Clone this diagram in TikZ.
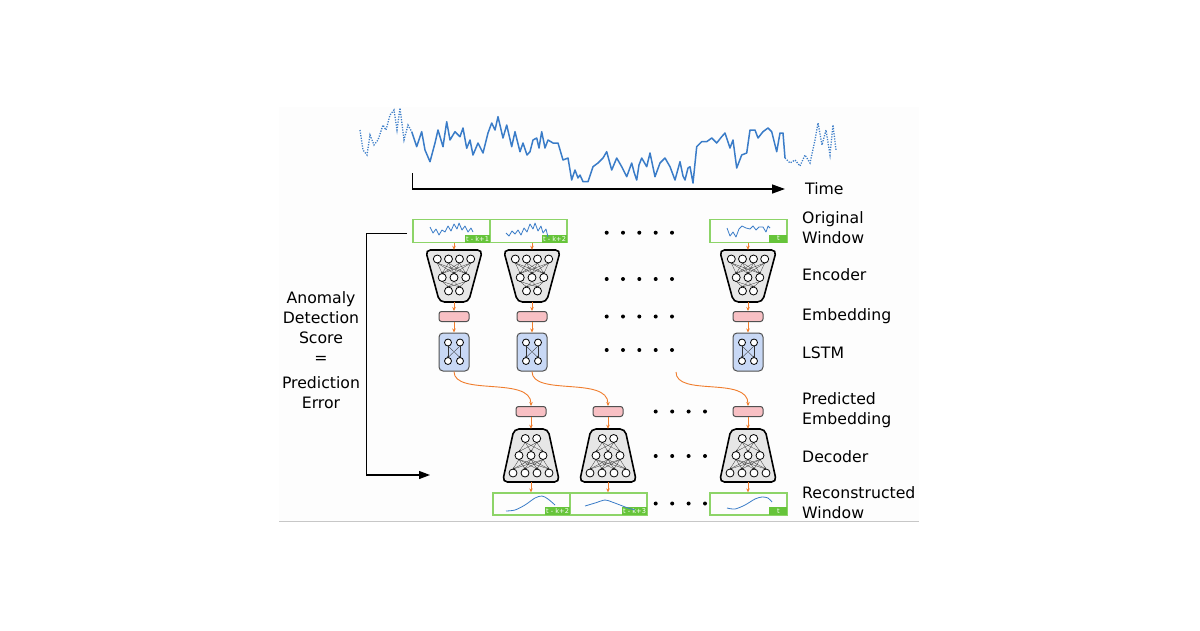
\documentclass[tikz,border=0pt]{standalone}
\usepackage{fontspec}
\setmainfont{DejaVu Sans}
\usetikzlibrary{arrows.meta,calc}
\definecolor{wgreen}{RGB}{141,212,104}
\definecolor{tgreen}{RGB}{102,196,58}
\definecolor{oline}{RGB}{240,125,45}
\definecolor{pinkc}{RGB}{248,192,196}
\definecolor{bluec}{RGB}{200,216,245}
\definecolor{encc}{RGB}{230,230,230}
\definecolor{wblue}{RGB}{58,124,200}
\definecolor{panelc}{RGB}{253,253,253}
\definecolor{edgec}{RGB}{80,80,80}

\newcommand\mkenc[3]{%
 \begin{scope}[shift={(#2,#3)}]
  \node[hidbox, minimum width=57, minimum height=52] (#1) at (0,0) {};
  \draw[netbody] (-28.5,-26) -- (28.5,-26) -- (14.5,26) -- (-14.5,26) -- cycle;
  \foreach \a in {-16.7,-5.5,5.5,16.7}{\foreach \b in {-11.8,0,11.8}{\draw[netline] (\a,-13) -- (\b,-2.5);}}
  \foreach \a in {-11.8,0,11.8}{\foreach \b in {-5.5,5.5}{\draw[netline] (\a,5.5) -- (\b,11);}}
  \foreach \a in {-16.7,-5.5,5.5,16.7}{\draw[neuron] (\a,-17) circle (4);}
  \foreach \a in {-11.8,0,11.8}{\draw[neuron] (\a,1.5) circle (4);}
  \foreach \a in {-5.5,5.5}{\draw[neuron] (\a,15) circle (4);}
 \end{scope}}

\newcommand\mkdec[3]{%
 \begin{scope}[shift={(#2,#3)}]
  \node[hidbox, minimum width=57, minimum height=53] (#1) at (0,0) {};
  \draw[netbody] (-17,-26.5) -- (17,-26.5) -- (28.5,26.5) -- (-28.5,26.5) -- cycle;
  \foreach \a in {-5.7,5.7}{\foreach \b in {-12,0,12}{\draw[netline] (\a,-13) -- (\b,-4);}}
  \foreach \a in {-12,0,12}{\foreach \b in {-18,-6,6,18}{\draw[netline] (\a,4) -- (\b,13.5);}}
  \foreach \a in {-5.7,5.7}{\draw[neuron] (\a,-17) circle (4);}
  \foreach \a in {-12,0,12}{\draw[neuron] (\a,0) circle (4);}
  \foreach \a in {-18,-6,6,18}{\draw[neuron] (\a,17.5) circle (4);}
 \end{scope}}

\newcommand\mklstm[3]{%
 \begin{scope}[shift={(#2,#3)}]
  \node[lstmbox] (#1) at (0,0) {};
  \draw[netline] (-6,-6) -- (-6,5.5);
  \draw[netline] (-6,-6) -- (6,5.5);
  \draw[netline] (6,-6) -- (-6,5.5);
  \draw[netline] (6,-6) -- (6,5.5);
  \foreach \a in {-6,6}{\draw[neuron] (\a,-9.5) circle (3.5); \draw[neuron] (\a,9) circle (3.5);}
 \end{scope}}

\begin{document}
\begin{tikzpicture}[x=1pt,y=-1pt,
  hidbox/.style={draw=none, inner sep=0pt, rectangle},
  netbody/.style={draw=black, fill=encc, line width=1.6pt, rounded corners=5pt},
  netline/.style={draw=black!80, line width=0.3pt, -{Stealth[length=1.6pt,width=1.6pt]}},
  neuron/.style={draw=black, fill=white, line width=0.8pt},
  lstmbox/.style={draw=edgec, fill=bluec, line width=1pt, rounded corners=4pt, minimum width=30pt, minimum height=38pt, inner sep=0pt},
  embbox/.style={draw=edgec, fill=pinkc, line width=1pt, rounded corners=2.5pt, minimum width=30pt, minimum height=10pt, inner sep=0pt},
  winbox/.style={draw=wgreen, line width=1.3pt, minimum width=77pt, minimum height=23pt, inner sep=0pt},
  tagbox/.style={fill=tgreen, text=white, font=\fontsize{6.6}{6.6}\selectfont, inner xsep=1.5pt, inner ysep=0.8pt, minimum height=8pt, anchor=south east},
  oarr/.style={draw=oline, line width=0.9pt, -{Stealth[length=4pt,width=3.5pt]}},
  barr/.style={draw=black, line width=1.2pt, -{Triangle[length=11pt,width=8pt]}},
  wave/.style={draw=wblue, line width=0.8pt, line join=round},
  series/.style={draw=wblue, line width=1.5pt, line join=round},
  dotseries/.style={draw=wblue, line width=1.3pt, dash pattern=on 1.2pt off 1.4pt},
  lab/.style={font=\fontsize{15.7}{20}\selectfont, anchor=west, align=left, inner sep=0pt}
]
\useasboundingbox (0,0) rectangle (1200,630);
\fill[panelc] (279,107) rectangle (919,521);
\draw[black!22, line width=1pt] (279,521) -- (919,521);

% time series
\draw[dotseries] (360,130) -- (363,150) -- (367,155) -- (370,135) -- (374,145) -- (378,140) -- (383,125) -- (386,130) -- (390,115) -- (394,110) -- (397,130) -- (400,108) -- (404,140) -- (408,125) -- (411.7,131.7);
\draw[series] (411.7,131.7) -- (416.7,146.7) -- (421.7,131.7) -- (425,150) -- (430,161.7) -- (435,143) -- (438,130) -- (443,146.7) -- (446.7,121.7) -- (450,140) -- (455,131.7) -- (460,136.7) -- (463,128) -- (466.7,148.3) -- (470,140) -- (473,155) -- (478,143) -- (483,153) -- (488,133) -- (491.7,123) -- (495,130) -- (498,116.7) -- (503,138) -- (506.7,125) -- (511.7,146.7) -- (515,131.7) -- (520,151.7) -- (523,143) -- (527,155) -- (530,151.7) -- (533,140) -- (536.7,138) -- (539,148) -- (541.7,131.7) -- (545,148) -- (548,140) -- (553,143) -- (558,143) -- (563,160) -- (568,158) -- (571.7,180) -- (575,170) -- (578,178) -- (580,175) -- (583,181.7) -- (588,181.7) -- (593,166.7) -- (598,163) -- (603,158) -- (606.7,151.7) -- (611.7,170) -- (616.7,158) -- (621.7,166.7) -- (626.7,176.7) -- (631.7,163) -- (634,172) -- (636.7,180) -- (639,165) -- (641.7,158) -- (646.7,166.7) -- (650,153) -- (655,176.7) -- (660,163) -- (665,158) -- (670,166.7) -- (675,180) -- (680,161.7) -- (683,176) -- (685,180) -- (688,168) -- (690,166.7) -- (693,183) -- (696.7,146.7) -- (701.7,141.7) -- (706.7,141.7) -- (711.7,138) -- (716.7,143) -- (721.7,136.7) -- (725,133) -- (730,148) -- (733,140) -- (736.7,168) -- (741.7,155) -- (746.7,153) -- (750,130) -- (755,130) -- (758,138) -- (763,131.7) -- (768,128) -- (771.7,131.7) -- (776.7,151.7) -- (780,133) -- (783,133) -- (785,158);
\draw[dotseries] (785,158) -- (790,163) -- (795,160) -- (800,166) -- (805,155) -- (810,163) -- (815,140) -- (818,123) -- (822,145) -- (826,130) -- (830,155) -- (833,125) -- (836,150);

% time axis
\coordinate (ts) at (412.3,173);
\node[lab] (time) at (805,189) {Time};
\draw[barr, line width=1.4pt, -{Triangle[length=13pt,width=9pt]}] (ts) |- ([xshift=-20pt]time.west);

% original windows
\node[winbox] (w1) at (451.5,230.7) {};
\node[winbox] (w2) at (528.5,230.7) {};
\node[winbox] (w3) at (748.5,230.7) {};
\node[tagbox] (w1t) at (w1.south east) {t - k+1};
\node[tagbox] (w2t) at (w2.south east) {t - k+2};
\node[tagbox, minimum width=18pt] (w3t) at (w3.south east) {t};
\draw[wave] (430,227) -- (433,233) -- (436,229) -- (439,235) -- (442,230) -- (445,232) -- (448,226) -- (451,231) -- (454,224) -- (457,229) -- (459,223) -- (462,230) -- (465,226) -- (468,232) -- (471,228) -- (473,232);
\draw[wave] (506,233) -- (509,236) -- (512,231) -- (515,234) -- (518,230) -- (521,235) -- (524,228) -- (527,232) -- (530,224) -- (533,229) -- (535,223) -- (538,231) -- (541,226) -- (543,233) -- (546,229) -- (548,237);
\draw[wave] (727,228) -- (730,236) -- (733,232) -- (736,237) -- (739,229) -- (742,226) -- (746,228) -- (750,229) -- (753,226) -- (756,230) -- (759,227) -- (763,227) -- (766,232) -- (768,226) -- (770,228);

% encoders
\mkenc{e1}{454}{276}
\mkenc{e2}{532}{276}
\mkenc{e3}{748}{276}

% embeddings
\node[embbox] (m1) at (454,316.5) {};
\node[embbox] (m2) at (532,316.5) {};
\node[embbox] (m3) at (748,316.5) {};

% LSTM
\mklstm{l1}{454}{352}
\mklstm{l2}{532}{352}
\mklstm{l3}{748}{352}

% predicted embeddings
\node[embbox] (p1) at (531,411.5) {};
\node[embbox] (p2) at (608,411.5) {};
\node[embbox] (p3) at (748,411.5) {};

% decoders
\mkdec{d1}{531}{455.5}
\mkdec{d2}{608}{455.5}
\mkdec{d3}{748}{455.5}

% reconstructed windows
\node[winbox, minimum height=22pt] (r1) at (531.5,504) {};
\node[winbox, minimum height=22pt] (r2) at (608.5,504) {};
\node[winbox, minimum height=22pt] (r3) at (748.5,504) {};
\node[tagbox] (r1t) at (r1.south east) {t - k+2};
\node[tagbox] (r2t) at (r2.south east) {t - k+3};
\node[tagbox, minimum width=18pt] (r3t) at (r3.south east) {t};
\draw[wave] plot[smooth] coordinates {(506,511) (515,510) (525,505) (535,498) (542,496) (548,499) (555,505)};
\draw[wave] plot[smooth] coordinates {(585,506) (595,503) (605,500) (612,502) (620,505) (628,508) (635,510)};
\draw[wave] plot[smooth] coordinates {(727,508) (735,509) (745,505) (755,499) (762,497) (768,498) (772,502)};

% orange connectors
\foreach \i in {1,2,3}{
  \draw[oarr] (w\i.south -| e\i.north) -- (e\i.north);
  \draw[oarr] (e\i.south) -- (m\i.north);
  \draw[oarr] (m\i.south) -- (l\i.north);
  \draw[oarr] (p\i.south) -- (d\i.north);
  \draw[oarr] (d\i.south) -- (r\i.north -| d\i.south);
}
\draw[oarr] (l1.south) .. controls +(0,25) and +(0,-30) .. (p1.north);
\draw[oarr] (l2.south) .. controls +(0,25) and +(0,-30) .. (p2.north);
\coordinate (c3) at (676,372);
\draw[oarr] (c3) .. controls +(0,25) and +(0,-30) .. (p3.north);

% dots
\foreach \y in {232.7,279,316.5,350}{\foreach \x in {606.7,623,639.3,655.7,672}{\fill (\x,\y) circle (2);}}
\foreach \y in {411.5,456,503.5}{\foreach \x in {655.7,672.2,688.6,705}{\fill (\x,\y) circle (2);}}

% bracket
\coordinate (b1) at (407,233.3);
\coordinate (b2) at (430,475);
\draw[barr] (b1) -- (366.7,233.3) |- (b2);
\node[font=\fontsize{15.7}{20}\selectfont, align=center, inner sep=0pt] (score) at (321,350.5) {Anomaly\\Detection\\Score\\=\\[5pt]Prediction\\Error};

% right labels
\node[lab] (lorig) at (802,228) {Original\\Window};
\node[lab] (lenc) at (802,275) {Encoder};
\node[lab] (lemb) at (802,316) {Embedding};
\node[lab] (llstm) at (802,352.5) {LSTM};
\node[lab] (lpred) at (802,410) {Predicted\\Embedding};
\node[lab] (ldec) at (802,456.5) {Decoder};
\node[lab] (lrec) at (802,502.5) {Reconstructed\\Window};
\end{tikzpicture}
\end{document}
